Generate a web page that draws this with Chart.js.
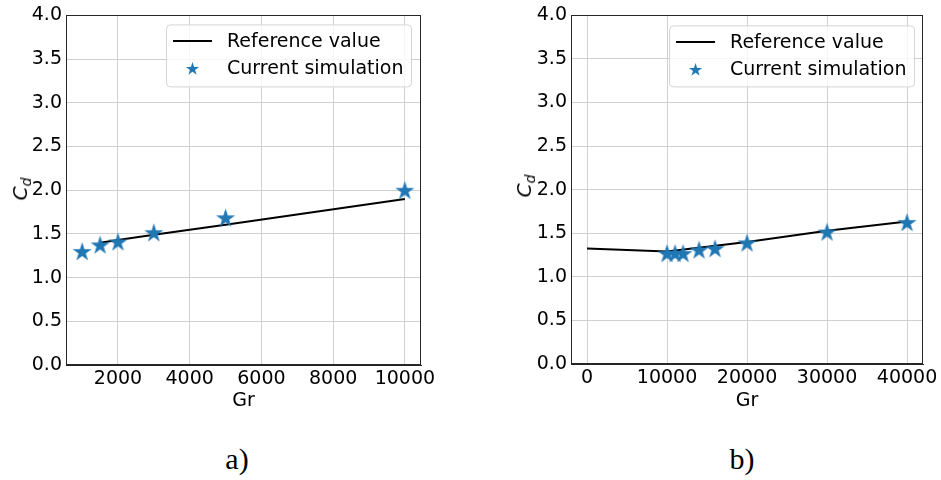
<!DOCTYPE html>
<html>
<head>
<meta charset="utf-8">
<script src="https://cdn.jsdelivr.net/npm/chart.js@4/dist/chart.umd.min.js"></script>
<style>
  html, body { margin: 0; padding: 0; background: #ffffff; }
  body { width: 941px; height: 480px; position: relative; overflow: hidden; font-family: "DejaVu Sans", sans-serif; }
  .wrap { position: absolute; }
  .ylab { position: absolute; font-family: "DejaVu Sans", sans-serif; font-size: 20px; font-style: italic; color: #000;
          transform: translate(-50%, -50%) rotate(-90deg); white-space: nowrap; }
  .ylab sub { font-size: 14px; vertical-align: -4px; }
  .panel { position: absolute; font-family: "Liberation Serif", "DejaVu Serif", serif; font-size: 30px; color: #000;
           transform: translate(-50%, -50%); white-space: nowrap; }
</style>
</head>
<body>
<div class="wrap" style="left:0px;top:0px;width:470px;height:415px;"><canvas id="chartA"></canvas></div>
<div class="wrap" style="left:500px;top:0px;width:441px;height:415px;"><canvas id="chartB"></canvas></div>
<div class="ylab" style="left:21px;top:189px;">C<sub>d</sub></div>
<div class="ylab" style="left:525px;top:186px;">C<sub>d</sub></div>
<div class="panel" style="left:237px;top:459px;">a)</div>
<div class="panel" style="left:742px;top:459px;">b)</div>
<script>
// ---- Data (panel a) ----
const grSimA = [1000, 1500, 2000, 3000, 5000, 10000];
const cdSimA = [1.30, 1.375, 1.41, 1.515, 1.685, 2.00];
const grRefA = [1500, 2000, 3000, 5000, 10000];
const cdRefA = [1.40, 1.43, 1.49, 1.605, 1.90];
// ---- Data (panel b) ----
const grSimB = [10000, 11000, 12000, 14000, 16000, 20000, 30000, 40000];
const cdSimB = [1.27, 1.27, 1.27, 1.31, 1.325, 1.39, 1.515, 1.625];
const grRefB = [0, 10000, 20000, 30000, 40000];
const cdRefB = [1.325, 1.29, 1.40, 1.53, 1.635];
// ---- Labels ----
const seriesLabels = ['Reference value', 'Current simulation'];
const xTitle = 'Gr';
const yTicks = [0, 0.5, 1.0, 1.5, 2.0, 2.5, 3.0, 3.5, 4.0];

const BLUE = '#1f77b4';
const FONT = '"DejaVu Sans", sans-serif';
const FS = 19;

function makeStar(size) {
  const c = document.createElement('canvas');
  c.width = size; c.height = size;
  const ctx = c.getContext('2d');
  const R = size / 2 - 0.5, r = R * 0.381966, cx = size / 2, cy = size / 2 + R * 0.08;
  ctx.beginPath();
  for (let i = 0; i < 10; i++) {
    const rad = (i % 2 === 0) ? R : r;
    const a = -Math.PI / 2 + i * Math.PI / 5;
    const x = cx + rad * Math.cos(a), y = cy + rad * Math.sin(a);
    if (i === 0) ctx.moveTo(x, y); else ctx.lineTo(x, y);
  }
  ctx.closePath();
  ctx.fillStyle = BLUE;
  ctx.fill();
  return c;
}
const starBig = makeStar(21);
const starSmall = makeStar(15);

function toXY(xs, ys) { return xs.map((x, i) => ({ x: x, y: ys[i] })); }

const frameAndLegendPlugin = {
  id: 'legendBox',
  afterDraw(chart, args, opts) {
    const ctx = chart.ctx;
    const ca = chart.chartArea;
    ctx.save();
    // full frame (spines)
    ctx.strokeStyle = '#262626';
    ctx.lineWidth = 1;
    ctx.strokeRect(Math.round(ca.left) + 0.5, Math.round(ca.top) + 0.5,
                   Math.round(ca.right - ca.left) - 1, Math.round(ca.bottom - ca.top) - 1);
    // legend
    const x = ca.right + opts.dxRight - opts.width, y = ca.top + opts.dy;
    const w = opts.width, h = opts.height;
    ctx.beginPath();
    ctx.roundRect(x + 0.5, y + 0.5, w, h, 4);
    ctx.fillStyle = 'rgba(255,255,255,0.8)';
    ctx.fill();
    ctx.strokeStyle = '#d4d4d4';
    ctx.lineWidth = 1;
    ctx.stroke();
    const ds = chart.data.datasets;
    const rows = [ds.find(d => d.label === seriesLabels[0]), ds.find(d => d.label === seriesLabels[1])];
    const rowY = [y + 16.5, y + 44];
    ctx.font = FS + 'px ' + FONT;
    ctx.textBaseline = 'middle';
    rows.forEach((d, i) => {
      if (i === 0) {
        ctx.beginPath();
        ctx.moveTo(x + 7, rowY[i]);
        ctx.lineTo(x + 46, rowY[i]);
        ctx.strokeStyle = d.borderColor;
        ctx.lineWidth = 2;
        ctx.stroke();
      } else {
        ctx.drawImage(starSmall, x + 26.5 - starSmall.width / 2, rowY[i] - starSmall.height / 2);
      }
      ctx.fillStyle = '#000';
      ctx.fillText(d.label, x + 61, rowY[i] + 1);
    });
    ctx.restore();
  }
};

function makeChart(id, grS, cdS, grR, cdR, xMin, xMax, xStep, yAxisW, xAxisH, pad, legendOpts) {
  return new Chart(document.getElementById(id), {
    type: 'scatter',
    data: {
      datasets: [
        {
          label: seriesLabels[1],
          data: toXY(grS, cdS),
          showLine: false,
          pointStyle: starBig,
          pointRadius: 10,
          pointHoverRadius: 10,
          backgroundColor: BLUE,
          borderColor: BLUE,
          order: 0
        },
        {
          label: seriesLabels[0],
          data: toXY(grR, cdR),
          showLine: true,
          borderColor: '#000000',
          backgroundColor: '#000000',
          borderWidth: 2,
          pointRadius: 0,
          pointHoverRadius: 0,
          tension: 0,
          order: 1
        }
      ]
    },
    options: {
      responsive: true,
      maintainAspectRatio: false,
      animation: false,
      events: [],
      layout: { padding: pad },
      plugins: {
        legend: { display: false },
        tooltip: { enabled: false },
        legendBox: legendOpts
      },
      scales: {
        x: {
          type: 'linear',
          min: xMin, max: xMax,
          afterBuildTicks(scale) {
            const t = [];
            for (let v = Math.ceil(xMin / xStep) * xStep; v <= xMax; v += xStep) t.push({ value: v });
            scale.ticks = t;
          },
          afterFit(scale) { scale.height = xAxisH; },
          ticks: { font: { family: FONT, size: FS }, color: '#000', padding: 3, maxRotation: 0, autoSkip: false,
                   callback: v => String(v) },
          grid: { color: '#d0d0d0', lineWidth: 1, drawTicks: false },
          border: { color: '#262626', width: 1 },
          title: { display: true, text: xTitle, font: { family: FONT, size: FS }, color: '#000', padding: { top: 0, bottom: 3 } }
        },
        y: {
          type: 'linear',
          min: 0, max: 4,
          afterBuildTicks(scale) { scale.ticks = yTicks.map(v => ({ value: v })); },
          afterFit(scale) { scale.width = yAxisW; },
          ticks: { font: { family: FONT, size: FS }, color: '#000', padding: 4,
                   callback: v => Number(v).toFixed(1) },
          grid: { color: '#d0d0d0', lineWidth: 1, drawTicks: false },
          border: { color: '#262626', width: 1 }
        }
      }
    },
    plugins: [frameAndLegendPlugin]
  });
}

// Panel a: plot area x 66..421, y 14..365
makeChart('chartA', grSimA, cdSimA, grRefA, cdRefA, 550, 10450, 2000, 66, 50,
  { top: 14, left: 0, right: 49, bottom: 0 },
  { width: 245, height: 62, dy: 9, dxRight: -10 });

// Panel b: plot area x 571..925 (canvas 71..425), y 12..364
makeChart('chartB', grSimB, cdSimB, grRefB, cdRefB, -2000, 42000, 10000, 71, 51,
  { top: 12, left: 0, right: 16, bottom: 0 },
  { width: 245, height: 61, dy: 10, dxRight: -9 });
</script>
</body>
</html>
